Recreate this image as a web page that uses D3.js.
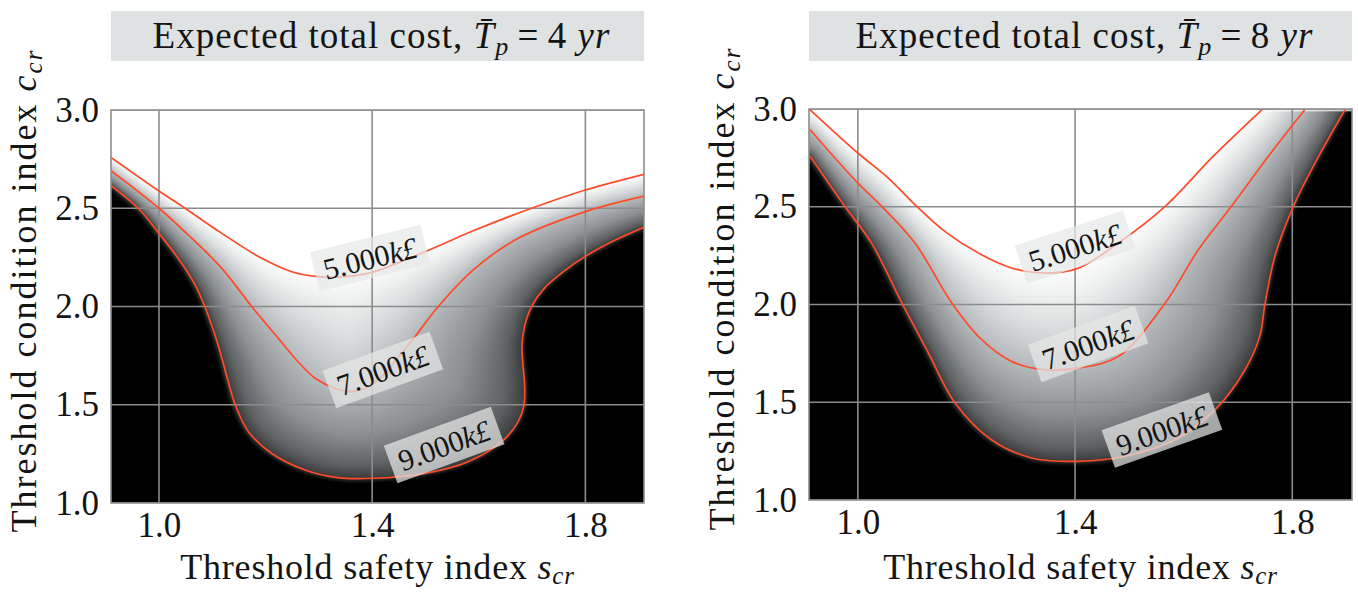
<!DOCTYPE html>
<html>
<head>
<meta charset="utf-8">
<script src="https://cdn.jsdelivr.net/npm/d3@7"></script>
<style>
  body{margin:0;background:#fff}
  svg{display:block}
  text{font-family:"Liberation Serif","Times New Roman",serif;fill:#141414}
</style>
</head>
<body>
<svg id="chart" width="1358" height="592"></svg>
<script>
"use strict";

// axes
const xDomain = [0.91, 1.91]
const yDomain = [1.0, 3.0]
const xTicks = [1.0, 1.4, 1.8]
const yTicks = [1.0, 1.5, 2.0, 2.5, 3.0]
const periods = [4, 8]
const levels = [5000, 7000, 9000]
const levelText = ["5.000", "7.000", "9.000"]

// contour lines, [s_cr, c_cr]
const left5000 = [[0.91,2.759],[1.0,2.588],[1.049,2.5],[1.118,2.372],[1.193,2.245],[1.249,2.177],
  [1.299,2.152],[1.349,2.152],[1.401,2.175],[1.499,2.279],[1.593,2.389],[1.699,2.5],[1.8,2.593],[1.91,2.673]]
const left7000 = [[0.91,2.691],[1.0,2.5],[1.055,2.364],[1.118,2.194],[1.174,2.0],[1.224,1.838],
  [1.261,1.719],[1.293,1.635],[1.330,1.584],[1.362,1.567],[1.403,1.609],[1.468,1.804],[1.524,2.0],
  [1.593,2.194],[1.674,2.347],[1.8,2.483],[1.91,2.562]]
const left9000 = [[0.91,2.615],[0.961,2.5],[1.0,2.372],[1.036,2.245],[1.068,2.109],[1.086,2.0],
  [1.111,1.804],[1.130,1.617],[1.143,1.5],[1.168,1.363],[1.211,1.253],[1.274,1.168],[1.336,1.129],
  [1.403,1.126],[1.499,1.151],[1.580,1.210],[1.643,1.312],[1.674,1.414],[1.685,1.5],[1.686,1.6],
  [1.683,1.70],[1.681,1.80],[1.686,1.90],[1.699,2.0],[1.722,2.09],[1.760,2.18],[1.8,2.255],
  [1.856,2.338],[1.91,2.403]]

const right5000 = [[0.912,2.996],[1.0,2.775],[1.056,2.647],[1.105,2.511],[1.160,2.374],[1.222,2.263],
  [1.283,2.187],[1.345,2.161],[1.405,2.185],[1.480,2.315],[1.566,2.502],[1.655,2.76],[1.744,2.996]]
const right7000 = [[0.912,2.894],[1.0,2.621],[1.044,2.502],[1.105,2.315],[1.173,2.008],[1.228,1.820],
  [1.283,1.709],[1.345,1.666],[1.405,1.675],[1.480,1.735],[1.566,2.008],[1.627,2.28],[1.688,2.502],
  [1.756,2.758],[1.823,2.996]]
const right9000 = [[0.912,2.758],[0.976,2.502],[1.025,2.315],[1.081,2.008],[1.130,1.752],[1.179,1.496],
  [1.246,1.308],[1.320,1.215],[1.405,1.198],[1.492,1.224],[1.584,1.308],[1.658,1.462],[1.713,1.666],
  [1.740,1.837],[1.750,2.008],[1.768,2.247],[1.802,2.502],[1.842,2.724],[1.897,2.996]]

// where the contour labels sit, [s_cr, c_cr]
const leftLabelAt = [[1.396,2.247],[1.420,1.677],[1.535,1.295]]
const rightLabelAt = [[1.400,2.294],[1.424,1.798],[1.560,1.358]]

// grey map of the cost field
const costStops = [4900, 5000, 5600, 6300, 7000, 8000, 8700, 9000, 9250]
const greyStops = ["#ffffff","#fcfcfc","#eceeee","#d4d7d8","#b7babc","#8d9092","#5f6163","#3d3e3f","#000000"]

const svg = d3.select("#chart")
const defs = svg.append("defs")

const panels = [
  {x0:111, x1:644, y0:110, y1:503, period:periods[0], curves:[left5000,left7000,left9000],
   labelAt:leftLabelAt, angles:[-14,-20,-20], yLabelX:36},
  {x0:809, x1:1352, y0:109, y1:500, period:periods[1], curves:[right5000,right7000,right9000],
   labelAt:rightLabelAt, angles:[-18,-20,-19.5], yLabelX:734}
]

const greyScale = d3.scaleLinear().domain(costStops).range(greyStops).clamp(true)
const lut = d3.range(0, 1001).map(i => d3.rgb(greyScale(4500 + i*5)))

function samplePath(node){
  let L = node.getTotalLength(), pts = []
  for(let s=0; s<=L; s+=1.5){
    let q = node.getPointAtLength(s)
    pts.push([q.x, q.y])
  }
  return pts
}

function nearest(pts, px, py){
  let m = Infinity
  for(let k=0; k<pts.length; k++){
    let dx = pts[k][0]-px, dy = pts[k][1]-py, d = dx*dx+dy*dy
    if(d<m) m = d
  }
  return Math.sqrt(m)
}

/** fills the plot with the cost field implied by the contour lines */
function costImage(nodes, w, h, step){
  let curves = nodes.map(samplePath)
  let polys = curves.map(c => {
    let a = c[0], b = c[c.length-1]
    return c.concat([[w+500,b[1]],[w+500,-500],[-500,-500],[-500,a[1]]])
  })
  let nx = Math.ceil(w/step), ny = Math.ceil(h/step)
  let canvas = document.createElement("canvas")
  canvas.width = nx; canvas.height = ny
  let ctx = canvas.getContext("2d")
  let img = ctx.createImageData(nx, ny)
  for(let j=0; j<ny; j++){
    for(let i=0; i<nx; i++){
      let px = (i+0.5)*step, py = (j+0.5)*step
      let c
      if(d3.polygonContains(polys[0],[px,py])){
        c = 4500
      }else if(d3.polygonContains(polys[1],[px,py])){
        let da = nearest(curves[0],px,py), db = nearest(curves[1],px,py)
        c = levels[0] + (levels[1]-levels[0])*da/(da+db)
      }else if(d3.polygonContains(polys[2],[px,py])){
        let da = nearest(curves[1],px,py), db = nearest(curves[2],px,py)
        c = levels[1] + (levels[2]-levels[1])*da/(da+db)
      }else{
        c = levels[2] + 45*nearest(curves[2],px,py)
      }
      let col = lut[Math.max(0, Math.min(1000, Math.round((c-4500)/5)))]
      let o = (j*nx+i)*4
      img.data[o] = col.r; img.data[o+1] = col.g; img.data[o+2] = col.b; img.data[o+3] = 255
    }
  }
  ctx.putImageData(img, 0, 0)
  return canvas.toDataURL()
}

panels.forEach((p, pi) => {
  let w = p.x1-p.x0, h = p.y1-p.y0
  let x = d3.scaleLinear().domain(xDomain).range([0,w])
  let y = d3.scaleLinear().domain(yDomain).range([h,0])

  // title
  let cx = (p.x0+p.x1)/2
  svg.append("rect")
    .attr("x",p.x0).attr("y",11).attr("width",w).attr("height",50)
    .attr("fill","#dfe2e2")
  let title = svg.append("text")
    .attr("x",cx+4).attr("y",48).attr("text-anchor","middle").attr("font-size",37)
    .attr("letter-spacing",1)
  title.append("tspan").text("Expected total cost, ")
  title.append("tspan").attr("font-style","italic").text("T\u0304")
  title.append("tspan").attr("font-style","italic").attr("font-size",26).attr("dy",7).text("p")
  title.append("tspan").attr("dy",-7).text("\u2009=\u2009" + p.period + " ")
  title.append("tspan").attr("font-style","italic").text("yr")

  defs.append("clipPath").attr("id","clip"+pi)
    .append("rect").attr("width",w).attr("height",h)

  let g = svg.append("g").attr("transform","translate("+p.x0+","+p.y0+")")
  let plot = g.append("g").attr("clip-path","url(#clip"+pi+")")
  plot.append("rect").attr("width",w).attr("height",h).attr("fill","#000")
  let image = plot.append("image")
    .attr("width",w).attr("height",h).attr("preserveAspectRatio","none")

  // grid
  plot.append("g").selectAll("line").data(xTicks).enter().append("line")
    .attr("x1",d=>x(d)).attr("x2",d=>x(d)).attr("y1",0).attr("y2",h)
    .attr("stroke","#8b8c8d").attr("stroke-width",1.6)
  plot.append("g").selectAll("line").data(yTicks).enter().append("line")
    .attr("y1",d=>y(d)).attr("y2",d=>y(d)).attr("x1",0).attr("x2",w)
    .attr("stroke","#8b8c8d").attr("stroke-width",1.6)

  // contour lines
  let line = d3.line().x(d=>x(d[0])).y(d=>y(d[1])).curve(d3.curveCatmullRom.alpha(0.5))
  let paths = p.curves.map(c => plot.append("path")
    .attr("d",line(c)).attr("fill","none")
    .attr("stroke","#ff4a28").attr("stroke-width",1.7))

  image.attr("href", costImage(paths.map(q=>q.node()), w, h, 2))

  // contour labels
  p.labelAt.forEach((pos, i) => {
    let lab = plot.append("g")
      .attr("transform","translate("+x(pos[0])+","+y(pos[1])+") rotate("+p.angles[i]+")")
    let box = lab.append("rect").attr("fill","#e6e8e8").attr("fill-opacity",0.72)
    let t = lab.append("text").attr("text-anchor","middle").attr("dy","0.36em").attr("font-size",30)
    t.append("tspan").text(levelText[i])
    t.append("tspan").attr("font-style","italic").text("k\u00a3")
    let tw = t.node().getComputedTextLength()
    box.attr("x",-tw/2-9).attr("y",-20).attr("width",tw+18).attr("height",40)
  })

  // frame
  g.append("rect").attr("width",w).attr("height",h)
    .attr("fill","none").attr("stroke","#8b8c8d").attr("stroke-width",1.6)

  // axes
  let ax = g.append("g").attr("transform","translate(0,"+h+")")
    .call(d3.axisBottom(x).tickValues(xTicks).tickSize(0).tickPadding(9).tickFormat(d3.format(".1f")))
  let ay = g.append("g")
    .call(d3.axisLeft(y).tickValues(yTicks).tickSize(0).tickPadding(12).tickFormat(d3.format(".1f")))
  ;[ax, ay].forEach(a => {
    a.select(".domain").remove()
    a.selectAll("text").attr("font-size",35).attr("font-family",null).attr("fill","#141414")
  })

  // axis titles
  let xl = svg.append("text").attr("x",cx).attr("y",579).attr("text-anchor","middle")
    .attr("font-size",36).attr("letter-spacing",0.8)
  xl.append("tspan").text("Threshold safety index ")
  xl.append("tspan").attr("font-style","italic").text("s")
  xl.append("tspan").attr("font-style","italic").attr("font-size",25).attr("dy",5).text("cr")

  let yl = svg.append("text")
    .attr("transform","translate("+p.yLabelX+","+((p.y0+p.y1)/2-16)+") rotate(-90)")
    .attr("text-anchor","middle").attr("font-size",36).attr("letter-spacing",2)
  yl.append("tspan").text("Threshold condition index ")
  yl.append("tspan").attr("font-style","italic").text("c")
  yl.append("tspan").attr("font-style","italic").attr("font-size",25).attr("dy",6).text("cr")
})
</script>
</body>
</html>
